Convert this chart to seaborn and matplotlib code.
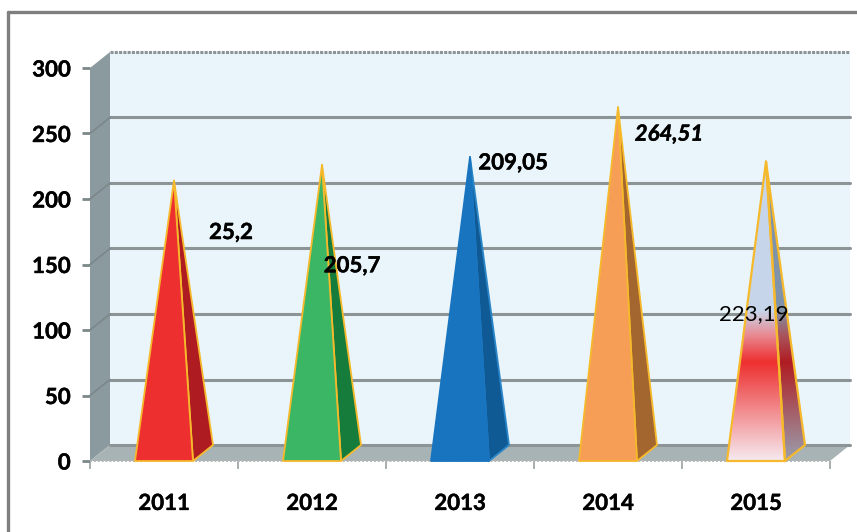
import numpy as np
import pandas as pd
import seaborn as sns
import matplotlib.pyplot as plt
import matplotlib.patheffects as pe
from matplotlib.colors import LinearSegmentedColormap
from matplotlib.lines import Line2D
from matplotlib.patches import Polygon

years = ['2011', '2012', '2013', '2014', '2015']
# the drawn heights do not always agree with the printed labels
heights = [208, 220, 226, 264, 222.5]
value_labels = ['25,2', '205,7', '209,05', '264,51', '223,19']
y_ticks = [0, 50, 100, 150, 200, 250, 300]

front_colors = ['#EE2F2F', '#3AB665', '#1874BE', '#F69D56', None]
side_colors = ['#AE1C22', '#167C3C', '#0F5A94', '#A4662F', None]
edge_colors = ['#F6B92C', '#F6B92C', '#2A86C8', '#F6B92C', '#F6B92C']

# layout
W, H = 857, 532
LEFT, RIGHT, BOTTOM, TOP = 90, 830, 461, 68
DEPTH_X, DEPTH_Y = 20 / 148, 16 / 1.31
label_offsets = [(57, 52), (30, 101), (43, 6), (51, 27), (-12, 153)]
label_styles = [('bold', 'normal'), ('bold', 'normal'), ('bold', 'normal'),
                ('bold', 'italic'), ('normal', 'normal')]
FONT = 16

sns.set_theme(style='white')
plt.rcParams['font.family'] = ['Lato', 'DejaVu Sans']

fig = plt.figure(figsize=(W / 100, H / 100), dpi=100)
ax = fig.add_axes([LEFT / W, 1 - BOTTOM / H, (RIGHT - LEFT) / W, (BOTTOM - TOP) / H])

df = pd.DataFrame({'year': years, 'height': heights})
sns.barplot(data=df, x='year', y='height', width=58 / 148, color='white', ax=ax)
bars = list(ax.patches)
for b in bars:
    b.set_visible(False)
ax.set_xlim(-0.5, 4.5)
ax.set_ylim(0, 300)
ax.set_xlabel('')
ax.set_ylabel('')
sns.despine(ax=ax, left=True, bottom=True, top=True, right=True)
ax.patch.set_visible(False)

x0, x1 = -0.5, 4.5
ymax = 300
heavy = [pe.withStroke(linewidth=0.3, foreground='black')]

# walls and floor
back = Polygon([(x0 + DEPTH_X, DEPTH_Y), (x1 + DEPTH_X, DEPTH_Y), (x1 + DEPTH_X, ymax + DEPTH_Y), (x0 + DEPTH_X, ymax + DEPTH_Y)],
               fc='#EAF5FB', ec='none', clip_on=False, zorder=1)
ax.add_patch(back)
side = Polygon([(x0, 0), (x0 + DEPTH_X, DEPTH_Y), (x0 + DEPTH_X, ymax + DEPTH_Y), (x0, ymax)],
               fc='#8B9A9E', ec='none', clip_on=False, zorder=1)
ax.add_patch(side)
floor = Polygon([(x0, 0), (x1, 0), (x1 + DEPTH_X, DEPTH_Y), (x0 + DEPTH_X, DEPTH_Y)],
                fc='#A8B3B5', ec='none', clip_on=False, zorder=1)
ax.add_patch(floor)

for t in y_ticks:
    ax.plot([x0 + DEPTH_X, x1 + DEPTH_X], [t + DEPTH_Y, t + DEPTH_Y], color='#8C9496', lw=2.2, clip_on=False, zorder=2,
            ls=(0, (1, 0.4)) if t == ymax else '-')
    if t not in (0, ymax):
        ax.plot([x0, x0 + DEPTH_X], [t, t + DEPTH_Y], color='#7B8789', lw=1.2, clip_on=False, zorder=2)
ax.plot([x0, x1], [0, 0], color='#B5B5B5', lw=1.4, ls=(0, (1, 1)), clip_on=False, zorder=2)

# vertical gradient used on the last pyramid
grad_front = LinearSegmentedColormap.from_list('gf', [(0, '#F6EAF0'), (0.33, '#EE2F2F'), (0.42, '#E98A92'),
                                                      (0.5, '#C6D5EA'), (1, '#C6D5EA')])
grad_side = LinearSegmentedColormap.from_list('gs', [(0, '#9AA0AE'), (0.33, '#B01C22'), (0.42, '#A9555E'),
                                                     (0.5, '#7F93AA'), (1, '#7F93AA')])
ramp = np.linspace(0, 1, 256).reshape(-1, 1)

for i, b in enumerate(bars[:len(years)]):
    xa, xb = b.get_x(), b.get_x() + b.get_width()
    h = b.get_height()
    apex = ((xa + xb) / 2 + DEPTH_X / 2, h + DEPTH_Y / 2)
    side_pts = [(xb, 0), (xb + DEPTH_X, DEPTH_Y), apex]
    front_pts = [(xa, 0), (xb, 0), apex]
    edge = edge_colors[i]
    if front_colors[i] is None:
        s_clip = Polygon(side_pts, fc='none', ec='none', transform=ax.transData)
        f_clip = Polygon(front_pts, fc='none', ec='none', transform=ax.transData)
        ax.add_patch(s_clip)
        ax.add_patch(f_clip)
        ims = ax.imshow(ramp, cmap=grad_side, origin='lower', aspect='auto', extent=(xa, xb + DEPTH_X, 0, apex[1]), zorder=3)
        ims.set_clip_path(s_clip)
        imf = ax.imshow(ramp, cmap=grad_front, origin='lower', aspect='auto', extent=(xa, xb + DEPTH_X, 0, apex[1]), zorder=3.1)
        imf.set_clip_path(f_clip)
        ax.add_patch(Polygon(side_pts, fc='none', ec=edge, lw=1.6, zorder=3.2, clip_on=False, joinstyle='round'))
        ax.add_patch(Polygon(front_pts, fc='none', ec=edge, lw=1.6, zorder=3.2, clip_on=False, joinstyle='round'))
    else:
        ax.add_patch(Polygon(side_pts, fc=side_colors[i], ec=edge, lw=1.3, zorder=3, clip_on=False, joinstyle='round'))
        # blue one has no visible ridge line
        front_edge = front_colors[i] if edge == '#2A86C8' else edge
        ax.add_patch(Polygon(front_pts, fc=front_colors[i], ec=front_edge, lw=1.3, zorder=3.1, clip_on=False, joinstyle='round'))
    ox, oy = label_offsets[i]
    weight, style = label_styles[i]
    txt = ax.annotate(value_labels[i], xy=apex, xytext=(ox, -oy), textcoords='offset pixels', ha='center', va='center',
                      fontsize=FONT, fontweight=weight, fontstyle=style, color='black', zorder=5, annotation_clip=False)
    if weight == 'bold':
        txt.set_path_effects(heavy)

ax.set_xlim(-0.5, 4.5)
ax.set_ylim(0, 300)

ax.set_yticks(y_ticks)
ax.set_xticks(range(len(years)))
ax.set_xticklabels(years)
ax.set_xticks(np.arange(x0, x1 + 1), minor=True)
ax.tick_params(axis='y', length=6, width=2, color='#7B8789', pad=8, labelsize=FONT, left=True)
ax.tick_params(axis='x', which='major', length=0, pad=23, labelsize=FONT)
ax.tick_params(axis='x', which='minor', length=6, width=1.2, color='#9AA2A4', bottom=True)
for lab in ax.get_xticklabels() + ax.get_yticklabels():
    lab.set_fontweight('bold')
    lab.set_color('black')
    lab.set_path_effects(heavy)

# outer frame, open to the right and below
frame = '#7F7F7F'
fig.add_artist(Line2D([8 / W, 8 / W], [0, 1 - 12 / H], color=frame, lw=2.4))
fig.add_artist(Line2D([8 / W, 1], [1 - 12 / H, 1 - 12 / H], color=frame, lw=2.4))

fig.savefig('out.png', dpi=100)
